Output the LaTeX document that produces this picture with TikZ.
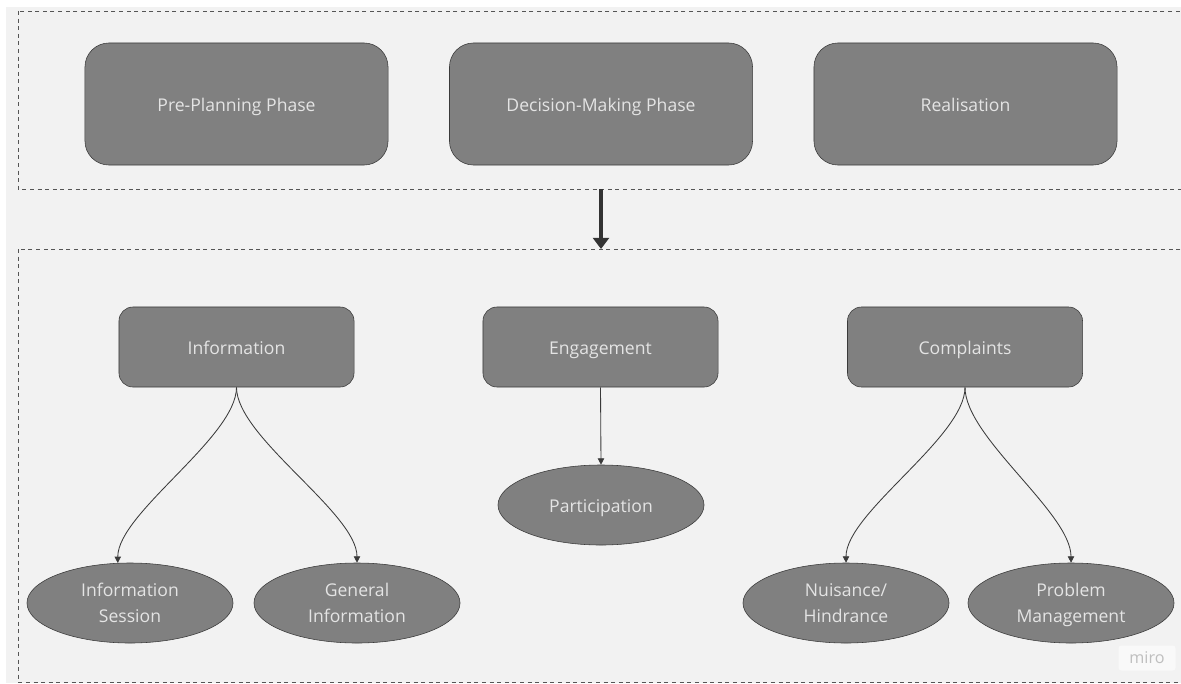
\documentclass[tikz,border=0pt]{standalone}
\usepackage{fontspec}
\setmainfont{Open Sans}
\usetikzlibrary{shapes.geometric,arrows.meta}
\definecolor{boardgrey}{HTML}{F2F2F2}
\definecolor{boxgrey}{HTML}{808080}
\definecolor{edgegrey}{HTML}{3A3A3A}
\definecolor{labelgrey}{HTML}{E4E4E4}
\definecolor{framegrey}{HTML}{555555}
\tikzset{
  phase/.style={draw=edgegrey,fill=boxgrey,text=labelgrey,rounded corners=0.6cm,
    minimum width=7.575cm,minimum height=3.05cm,text height=2.1ex,text depth=0.2ex,
    font=\fontsize{12.5}{18.5}\selectfont},
  topic/.style={phase,rounded corners=0.35cm,minimum width=5.875cm,minimum height=2cm},
  item/.style={draw=edgegrey,fill=boxgrey,text=labelgrey,ellipse,inner sep=0pt,align=center,
    minimum width=5.15cm,minimum height=2cm,text depth=0pt,font=\fontsize{12.5}{18.5}\selectfont},
  frame/.style={draw=framegrey,line width=0.6pt,dash pattern=on 0.1cm off 0.09cm},
  link/.style={draw=edgegrey,line width=0.6pt,-{Triangle[length=0.16cm,width=0.16cm]}}
}
\begin{document}
\begin{tikzpicture}[x=0.025cm,y=-0.025cm]
  \useasboundingbox (0,0) rectangle (1181,683);
  \clip (0,0) rectangle (1181,683);
  \fill[boardgrey] (6,7) rectangle (1181,683);
  \draw[frame] (18,11) rectangle (1200,189);
  \draw[frame] (18,249) rectangle (1200,682);
  \draw
    (236.5,104) node[phase] (preplan){Pre-Planning Phase}
    (601,104) node[phase] (decision){Decision-Making Phase}
    (965.5,104) node[phase] (realis){Realisation}
    (236.5,347) node[topic] (info){Information}
    (600.5,347) node[topic] (engage){Engagement}
    (965,347) node[topic] (compl){Complaints}
    (130,603) node[item] (infosess){Information\\Session}
    (357,603) node[item] (geninfo){General\\Information}
    (601,505) node[item,text height=2.1ex,text depth=0.2ex] (partic){Participation}
    (846,603) node[item] (nuis){Nuisance/\\Hindrance}
    (1071,603) node[item] (probman){Problem\\Management};
  \node[fill=white!55!boardgrey,rounded corners=2pt,minimum width=1.425cm,minimum height=0.625cm,
    text=black!25,font=\fontsize{11.5}{13}\selectfont] (miro) at (1147,658) {miro};
  \coordinate (arrtop) at (601,189);
  \coordinate (arrbot) at (601,249);
  \draw[black!80,line width=0.11cm,-{Triangle[length=0.28cm,width=0.4cm]}] (arrtop) -- (arrbot);
  \begin{scope}[link]
    \draw (info.south) .. controls +(0,50) and +(0,-50) .. (infosess.107);
    \draw (info.south) .. controls +(0,50) and +(0,-50) .. (geninfo.north);
    \draw (engage.south) -- (partic.north);
    \draw (compl.south) .. controls +(0,50) and +(0,-50) .. (nuis.north);
    \draw (compl.south) .. controls +(0,50) and +(0,-50) .. (probman.north);
  \end{scope}
\end{tikzpicture}
\end{document}
